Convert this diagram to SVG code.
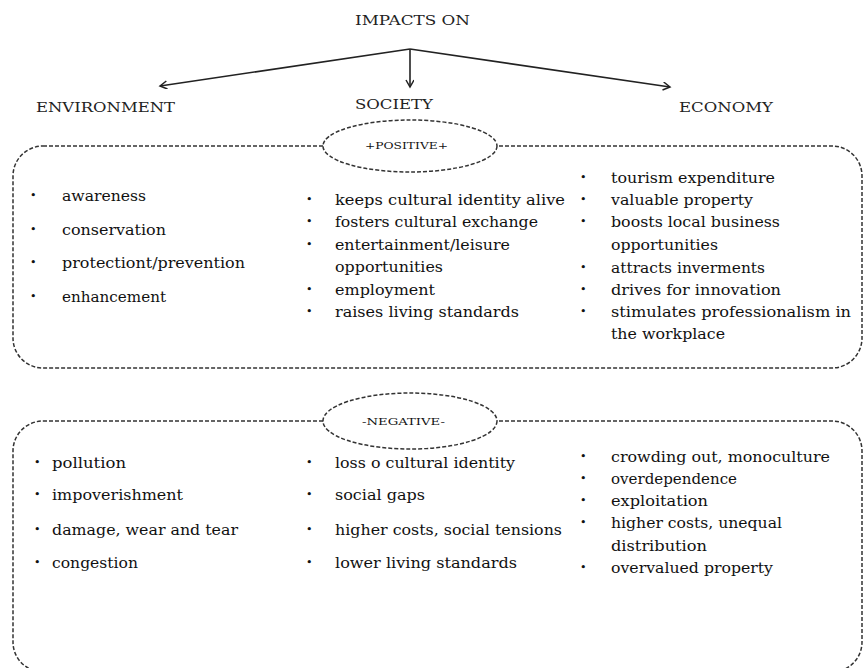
<svg xmlns="http://www.w3.org/2000/svg" width="865" height="668" viewBox="0 0 865 668">
<defs>
<marker id="arr" markerWidth="10" markerHeight="10" refX="8" refY="4" orient="auto" markerUnits="userSpaceOnUse">
<path d="M1,0 L8,4 L1,8" fill="none" stroke="#222" stroke-width="1.5"/>
</marker>
<style>
text{font-family:"DejaVu Serif","Liberation Serif",serif;fill:#111}
.it{font-size:14.5px}
.hd{font-size:13px;fill:#222}
.tag{font-size:9.5px}
.bl{font-size:11px}
.box{fill:none;stroke:#333;stroke-width:1.5;stroke-dasharray:4 2}
.ell{fill:#fff;stroke:#333;stroke-width:1.5;stroke-dasharray:4 2}
.con{stroke:#222;stroke-width:1.6;fill:none}
</style>
</defs>
<rect width="865" height="668" fill="#fff"/>

<g id="title"><text class="hd" x="355" y="25" textLength="115" lengthAdjust="spacingAndGlyphs">IMPACTS ON</text></g>

<g id="connectors">
<line class="con" x1="410" y1="49" x2="160" y2="86" marker-end="url(#arr)"/>
<line class="con" x1="410" y1="49" x2="410" y2="87" marker-end="url(#arr)"/>
<line class="con" x1="410" y1="49" x2="670" y2="87" marker-end="url(#arr)"/>
</g>

<g id="environment"><text class="hd" x="36" y="112" textLength="139" lengthAdjust="spacingAndGlyphs">ENVIRONMENT</text></g>
<g id="society"><text class="hd" x="355" y="109" textLength="78" lengthAdjust="spacingAndGlyphs">SOCIETY</text></g>
<g id="economy"><text class="hd" x="679" y="112" textLength="94" lengthAdjust="spacingAndGlyphs">ECONOMY</text></g>

<g id="positive">
<rect class="box" x="13" y="146" width="849" height="222" rx="30" ry="30"/>
<ellipse class="ell" cx="410" cy="146" rx="87" ry="26"/>
<text class="tag" x="365" y="149" textLength="83" lengthAdjust="spacingAndGlyphs">+POSITIVE+</text>
<g class="bl">
<text x="30" y="199">•</text><text x="30" y="233">•</text><text x="30" y="266">•</text><text x="30" y="300">•</text>
<text x="306" y="203">•</text><text x="306" y="225">•</text><text x="306" y="248">•</text><text x="306" y="293">•</text><text x="306" y="315">•</text>
<text x="580" y="181">•</text><text x="580" y="203">•</text><text x="580" y="225">•</text><text x="580" y="271">•</text><text x="580" y="293">•</text><text x="580" y="315">•</text>
</g>
<g class="it">
<text x="62" y="201" textLength="84" lengthAdjust="spacingAndGlyphs">awareness</text>
<text x="62" y="235" textLength="104" lengthAdjust="spacingAndGlyphs">conservation</text>
<text x="62" y="268" textLength="183" lengthAdjust="spacingAndGlyphs">protectiont/prevention</text>
<text x="62" y="302" textLength="104" lengthAdjust="spacingAndGlyphs">enhancement</text>
<text x="335" y="205" textLength="230" lengthAdjust="spacingAndGlyphs">keeps cultural identity alive</text>
<text x="335" y="227" textLength="203" lengthAdjust="spacingAndGlyphs">fosters cultural exchange</text>
<text x="335" y="250" textLength="175" lengthAdjust="spacingAndGlyphs">entertainment/leisure</text>
<text x="335" y="272" textLength="108" lengthAdjust="spacingAndGlyphs">opportunities</text>
<text x="335" y="295" textLength="100" lengthAdjust="spacingAndGlyphs">employment</text>
<text x="335" y="317" textLength="184" lengthAdjust="spacingAndGlyphs">raises living standards</text>
<text x="611" y="183" textLength="164" lengthAdjust="spacingAndGlyphs">tourism expenditure</text>
<text x="611" y="205" textLength="142" lengthAdjust="spacingAndGlyphs">valuable property</text>
<text x="611" y="227" textLength="169" lengthAdjust="spacingAndGlyphs">boosts local business</text>
<text x="611" y="250" textLength="107" lengthAdjust="spacingAndGlyphs">opportunities</text>
<text x="611" y="273" textLength="154" lengthAdjust="spacingAndGlyphs">attracts inverments</text>
<text x="611" y="295" textLength="170" lengthAdjust="spacingAndGlyphs">drives for innovation</text>
<text x="611" y="317" textLength="240" lengthAdjust="spacingAndGlyphs">stimulates professionalism in</text>
<text x="611" y="339" textLength="114" lengthAdjust="spacingAndGlyphs">the workplace</text>
</g>
</g>

<g id="negative">
<rect class="box" x="13" y="421" width="849" height="251" rx="30" ry="30"/>
<ellipse class="ell" cx="410" cy="421" rx="87" ry="28"/>
<text class="tag" x="362" y="425" textLength="83" lengthAdjust="spacingAndGlyphs">-NEGATIVE-</text>
<g class="bl">
<text x="34" y="466">•</text><text x="34" y="498">•</text><text x="34" y="533">•</text><text x="34" y="566">•</text>
<text x="306" y="466">•</text><text x="306" y="498">•</text><text x="306" y="533">•</text><text x="306" y="566">•</text>
<text x="580" y="460">•</text><text x="580" y="482">•</text><text x="580" y="504">•</text><text x="580" y="526">•</text><text x="580" y="571">•</text>
</g>
<g class="it">
<text x="52" y="468" textLength="74" lengthAdjust="spacingAndGlyphs">pollution</text>
<text x="52" y="500" textLength="131" lengthAdjust="spacingAndGlyphs">impoverishment</text>
<text x="52" y="535" textLength="186" lengthAdjust="spacingAndGlyphs">damage, wear and tear</text>
<text x="52" y="568" textLength="86" lengthAdjust="spacingAndGlyphs">congestion</text>
<text x="335" y="468" textLength="180" lengthAdjust="spacingAndGlyphs">loss o cultural identity</text>
<text x="335" y="500" textLength="90" lengthAdjust="spacingAndGlyphs">social gaps</text>
<text x="335" y="535" textLength="227" lengthAdjust="spacingAndGlyphs">higher costs, social tensions</text>
<text x="335" y="568" textLength="182" lengthAdjust="spacingAndGlyphs">lower living standards</text>
<text x="611" y="462" textLength="219" lengthAdjust="spacingAndGlyphs">crowding out, monoculture</text>
<text x="611" y="484" textLength="126" lengthAdjust="spacingAndGlyphs">overdependence</text>
<text x="611" y="506" textLength="97" lengthAdjust="spacingAndGlyphs">exploitation</text>
<text x="611" y="528" textLength="171" lengthAdjust="spacingAndGlyphs">higher costs, unequal</text>
<text x="611" y="551" textLength="96" lengthAdjust="spacingAndGlyphs">distribution</text>
<text x="611" y="573" textLength="162" lengthAdjust="spacingAndGlyphs">overvalued property</text>
</g>
</g>
</svg>
